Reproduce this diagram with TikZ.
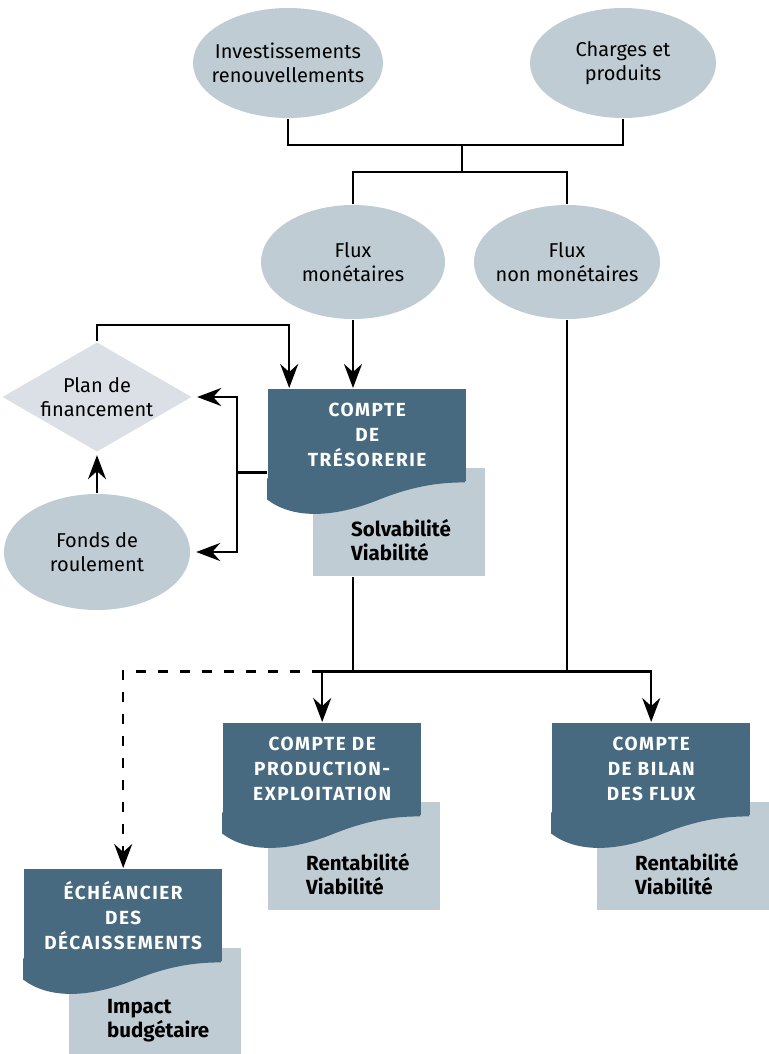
\documentclass[tikz,border=0pt]{standalone}
\usepackage{fontspec}
\setmainfont{Fira Sans}
\usetikzlibrary{shapes.geometric,arrows.meta,positioning}
\definecolor{bleufonce}{RGB}{71,106,128}
\definecolor{bleuclair}{RGB}{191,204,212}
\definecolor{gris}{RGB}{219,224,231}

\begin{document}
\begin{tikzpicture}[x=1pt, y=-1pt,
	every node/.style={font=\fontsize{20}{24}\selectfont},
	every path/.style={line width=2.4pt},
	>={Stealth[length=24pt, width=18pt, inset=8pt]},
	bulle/.style={ellipse, fill=bleuclair, inner sep=0pt},
	losange/.style={diamond, fill=gris, inner sep=0pt, minimum width=190pt, minimum height=110pt},
	doc/.style={anchor=north west, fill=bleufonce, text=white, align=center, minimum width=198pt, minimum height=92pt,
		font=\fontsize{19}{25}\selectfont\bfseries\addfontfeature{LetterSpace=8}},
	fiche/.style={anchor=north west, fill=bleuclair, minimum width=172pt, minimum height=108pt},
	note/.style={align=left, inner sep=0pt, font=\fontsize{20.5}{24}\selectfont\bfseries}]
	\useasboundingbox (0,0) rectangle (768,1054);

	% les bulles
	\node[bulle, minimum width=190pt, minimum height=110pt, label={[align=center]center:Investissements\\renouvellements}] (inv) at (288,63) {};
	\node[bulle, minimum width=186pt, minimum height=110pt, label={[align=center]center:Charges et\\produits}] (chg) at (623,63) {};
	\node[bulle, minimum width=184pt, minimum height=114pt, label={[align=center]center:Flux\\monétaires}] (fm) at (353,262) {};
	\node[bulle, minimum width=186pt, minimum height=114pt, label={[align=center]center:Flux\\non monétaires}] (fnm) at (567,262) {};
	\node[bulle, minimum width=186pt, minimum height=116pt, label={[align=center]center:Fonds de\\roulement}] (fonds) at (97,552) {};
	\node[losange, label={[align=center]center:Plan de\\financement}] (plan) at (97,397) {};

	% les comptes
	\node[fiche] (tresb) at (312,467) {};
	\node[fiche] (prodb) at (267,801) {};
	\node[fiche] (bilanb) at (596,801) {};
	\node[fiche] (echb) at (68,947) {};
	\node[doc] (tres) at (267,388) {COMPTE\\DE\\TRÉSORERIE};
	\node[doc] (prod) at (222,722) {COMPTE DE\\PRODUCTION-\\EXPLOITATION};
	\node[doc] (bilan) at (551,722) {COMPTE\\DE BILAN\\DES FLUX};
	\node[doc] (ech) at (23,868) {ÉCHÉANCIER\\DES\\DÉCAISSEMENTS};
	\foreach \d in {tres,prod,bilan,ech}
		\fill[bleufonce, shift={(\d.south west)}] (0,-4) -- (0,17) .. controls (30,40) and (75,32) .. (110,18)
			.. controls (145,4) and (170,0) .. (198,0) -- (198,-4) -- cycle;

	\node[note, below right=51pt and 38pt of tresb.north west] (tresn) {Solvabilité\\Viabilité};
	\node[note, below right=51pt and 38pt of prodb.north west] (prodn) {Rentabilité\\Viabilité};
	\node[note, below right=51pt and 38pt of bilanb.north west] (bilann) {Rentabilité\\Viabilité};
	\node[note, below right=51pt and 38pt of echb.north west] (echn) {Impact\\budgétaire};

	% liaisons
	\coordinate (j1) at (462,145);
	\coordinate (j2) at (462,172);
	\draw (inv.south) |- (j1) -| (chg.south);
	\draw (j1) -- (j2);
	\draw (fm.north) |- (j2) -| (fnm.north);
	\draw[->] (fm.south) -- (fm.south |- tres.north);
	\draw[->] (plan.north) -- ++(0,-16) -| ([xshift=-78pt]tres.north);
	\draw ([yshift=10pt]tres.south west) -- ++(-30,0) coordinate (k);
	\draw[->, shorten >=4pt] (k) |- (plan.east);
	\draw[->, shorten >=5pt] (k) |- (fonds.east);
	\draw[->, shorten >=2pt] (fonds.north) -- (plan.south);

	\draw (fm.south |- tresb.south) -- ++(0,94) coordinate (m);
	\draw (fnm.south) |- (m);
	\draw[->] (m) -| (prod.north);
	\draw[->] (fnm.south |- m) -| (bilan.north);
	\draw[->, dash pattern=on 10pt off 12pt] (prod.north |- m) -| (ech.north);
\end{tikzpicture}
\end{document}
